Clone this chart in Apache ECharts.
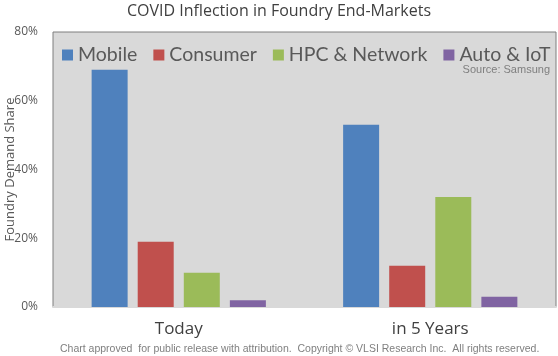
<!DOCTYPE html>
<html>
<head>
<meta charset="utf-8">
<script src="https://cdn.jsdelivr.net/npm/echarts@6/dist/echarts.min.js"></script>
<style>html,body{margin:0;padding:0;background:#fff;}#c{width:558px;height:356px;}</style>
</head>
<body>
<div id="c"></div>
<script>
const categories = ['Today', 'in 5 Years'];
const seriesNames = ['Mobile', 'Consumer', 'HPC & Network', 'Auto & IoT'];
const mobile = [69, 53];
const consumer = [19, 12];
const hpcNetwork = [10, 32];
const autoIot = [2, 3];
const yTicks = [0, 20, 40, 60, 80];
const colors = ['#4f81bd', '#c0504d', '#9bbb59', '#8064a2'];
const values = [mobile, consumer, hpcNetwork, autoIot];

const chart = echarts.init(document.getElementById('c'));
chart.setOption({
  animation: false,
  title: {
    text: 'COVID Inflection in Foundry End-Markets',
    left: 'center', top: -2,
    textStyle: { fontFamily: 'Open Sans', fontSize: 16, fontWeight: 'normal', color: '#404040' }
  },
  legend: {
    left: 57, top: 40, width: 540, padding: 5,
    itemWidth: 11, itemHeight: 11, itemGap: 16,
    icon: 'rect',
    textStyle: { fontFamily: 'Lato', fontSize: 19.5, color: '#595959' },
    data: seriesNames
  },
  grid: {
    left: 53, right: 2, top: 32, bottom: 49,
    containLabel: false, outerBoundsMode: 'none',
    show: true, backgroundColor: '#d9d9d9', borderColor: '#7f7f7f', borderWidth: 1
  },
  xAxis: {
    type: 'category', data: categories,
    axisLine: { show: true, lineStyle: { color: '#d9d9d9', width: 2 } },
    axisTick: { show: false },
    axisLabel: { fontFamily: 'Open Sans', fontSize: 17, color: '#404040', margin: 14 }
  },
  yAxis: {
    type: 'value', min: yTicks[0], max: yTicks[yTicks.length - 1], interval: 20,
    name: 'Foundry Demand Share', nameLocation: 'middle', nameGap: 36, nameMoveOverlap: false,
    nameTextStyle: { fontFamily: 'Open Sans', fontSize: 13, color: '#595959' },
    axisLine: { show: false }, axisTick: { show: false }, splitLine: { show: false },
    axisLabel: { formatter: '{value}%', fontFamily: 'Open Sans', fontSize: 12, color: '#595959', margin: 15 }
  },
  graphic: [
    { type: 'text', right: 8, top: 64, style: { text: 'Source: Samsung', font: '11px "Liberation Sans"', fill: '#7f7f7f' } },
    { type: 'text', left: 60, top: 344, style: { text: 'Chart approved  for public release with attribution.  Copyright \u00a9 VLSI Research Inc.  All rights reserved.', font: '10.5px "Liberation Sans"', fill: '#7f7f7f' } }
  ],
  series: seriesNames.map((n, i) => ({
    name: n, type: 'bar', data: values[i], barWidth: 36, barGap: '28%',
    itemStyle: { color: colors[i] }
  }))
});
</script>
</body>
</html>
